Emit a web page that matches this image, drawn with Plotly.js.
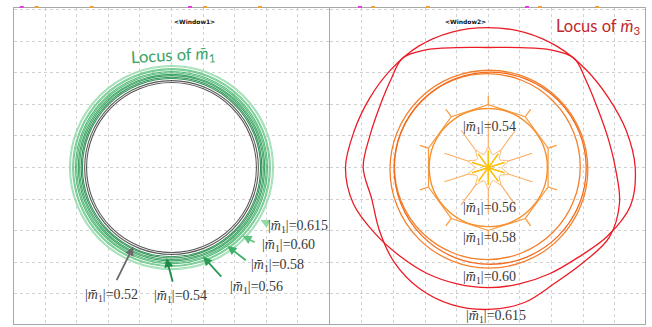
<!DOCTYPE html>
<html><head><meta charset="utf-8">
<script src="https://cdn.plot.ly/plotly-3.0.1.min.js"></script>
<style>html,body{margin:0;padding:0;background:#fff}#chart{width:652px;height:327px}</style>
</head><body><div id="chart"></div>
<script>
// ---------- data (grid units; 1 unit = one grid cell) ----------
// Left panel: locus of m1 for each |m1|
const m1Labels = ['0.52', '0.54', '0.56', '0.58', '0.60', '0.615'];
const m1RadiusA = [2.75, 2.86, 2.95, 3.04, 3.13, 3.23];
const m1RadiusB = [2.69, 2.82, 2.91, 3.00, 3.10, 3.20];
// arrow tip (on ring) and tail positions, label positions
const m1TipX = [-1.21, -0.16, 1.00, 1.77, 2.25, 2.82];
const m1TipY = [-2.50, -2.87, -2.82, -2.48, -2.16, -1.66];
const m1TailX = [-1.76, 0.05, 1.62, 2.40, 2.68, 3.06];
const m1TailY = [-3.61, -3.66, -3.50, -2.97, -2.39, -1.78];
const m1LabelX = [-1.89, 0.27, 2.69, 3.37, 3.69, 3.99];
const m1LabelY = [-4.06, -4.09, -3.81, -3.11, -2.45, -1.88];

// Right panel: locus of m3
const m3Labels = ['0.54', '0.56', '0.58', '0.60', '0.615'];
const m3LabelX = [0.05, 0.05, 0.05, 0.05, 0.24];
const m3LabelY = [1.27, -1.31, -2.26, -3.49, -4.72];
const symAngles = [18, 54, 90, 126, 162, 198, 234, 270, 306, 342];
const yellowSpokeR = 0.54;                 // |m1| = 0.52
const flowerR = [0.66, 0.44];              // |m1| = 0.54 inner flower (peak, valley)
const spokeR = [0.63, 1.46];               // |m1| = 0.54 spokes (start, end)
const polyR = [1.99, 2.28];                // |m1| = 0.56 polygon vertex, spike tip
const ringR = 1.87;                        // |m1| = 0.58 ring
const bigRingR = [2.94, 3.04, 3.13];       // |m1| = 0.60 rings
const bigRingCx = [-0.03, 0.06, 0.02];
const bigRingCy = [0.03, -0.02, -0.05];
// |m1| = 0.615 : two red loci (angle deg, radius)
const redPAng = [0,15,30,45,60,75,90,105,120,135,150,165,180,195,210,225,240,255,270,285,300,315,330,345];
const redPR   = [4.65,4.52,4.40,4.38,4.41,4.43,4.43,4.44,4.43,4.37,4.35,4.40,4.52,4.42,4.15,3.96,3.87,3.81,3.80,3.81,3.88,4.02,4.35,4.66];
const redQAng = [0,15,30,42,52,62,75,90,105,118,128,138,150,165,180,195,210,225,240,255,270,285,300,315,330,345];
const redQR   = [4.02,3.90,3.95,4.15,4.40,4.22,3.93,3.80,3.93,4.22,4.40,4.15,3.95,3.88,3.96,3.82,3.98,4.22,4.40,4.49,4.49,4.42,4.22,4.25,4.42,4.30];

// ---------- styles ----------
const greenCols = ['#4a4a4a', '#1e8a48', '#2f9d58', '#45b46c', '#68c787', '#98dcae'];
const arrowCols = ['#6b6b6b', '#1e8a48', '#2a9a55', '#3cb068', '#5cc47e', '#8fdaa5'];
const labelFont = {family: 'Liberation Serif', size: 14, color: '#3a3a3a'};

function pol(r, deg) { const t = deg * Math.PI / 180; return [r * Math.cos(t), r * Math.sin(t)]; }
function closed(angs, rs) {
  const xs = [], ys = [];
  angs.concat([angs[0]]).forEach((a, i) => { const p = pol(rs[i % rs.length], a); xs.push(p[0]); ys.push(p[1]); });
  return {x: xs, y: ys};
}

const traces = [];
const shapes = [];
const ann = [];

// left rings
m1RadiusA.forEach((r, i) => {
  [r, m1RadiusB[i]].forEach(rr => shapes.push({type: 'circle', xref: 'x', yref: 'y', x0: -rr, x1: rr, y0: -rr, y1: rr,
    line: {color: greenCols[i], width: 1.1}, opacity: 0.9}));
  ann.push({xref: 'x', yref: 'y', axref: 'x', ayref: 'y', x: m1TipX[i], y: m1TipY[i], ax: m1TailX[i], ay: m1TailY[i],
    text: '', showarrow: true, arrowhead: 2, arrowsize: 1, arrowwidth: 1.8, arrowcolor: arrowCols[i]});
  ann.push({xref: 'x', yref: 'y', x: m1LabelX[i], y: m1LabelY[i], showarrow: false,
    text: '|<i>m\u0304</i><sub>1</sub>|=' + m1Labels[i], font: labelFont});
});

// right: yellow spokes
(function () {
  const xs = [], ys = [];
  symAngles.forEach(a => { const p = pol(yellowSpokeR, a); const q = pol(yellowSpokeR, a + 180);
    xs.push(q[0], p[0], null); ys.push(q[1], p[1], null); });
  traces.push({x: xs, y: ys, xaxis: 'x2', yaxis: 'y2', mode: 'lines', line: {color: '#fdc010', width: 1.3}, hoverinfo: 'skip'});
})();
// flower ring
(function () {
  const angs = [], rs = [];
  symAngles.forEach(a => { angs.push(a, a + 18); rs.push(flowerR[0], flowerR[1]); });
  const c = closed(angs, rs);
  traces.push({x: c.x, y: c.y, xaxis: 'x2', yaxis: 'y2', mode: 'lines', line: {color: '#fdb56e', width: 1, shape: 'spline'}, hoverinfo: 'skip'});
})();
// light-orange spokes
(function () {
  const xs = [], ys = [];
  symAngles.forEach(a => { const p = pol(spokeR[0], a), q = pol(spokeR[1], a); xs.push(p[0], q[0], null); ys.push(p[1], q[1], null); });
  traces.push({x: xs, y: ys, xaxis: 'x2', yaxis: 'y2', mode: 'lines', line: {color: '#fbac62', width: 1.1}, hoverinfo: 'skip'});
})();
// polygon with spikes
(function () {
  const c = closed(symAngles, symAngles.map(() => polyR[0]));
  traces.push({x: c.x, y: c.y, xaxis: 'x2', yaxis: 'y2', mode: 'lines', line: {color: '#f99a40', width: 1.2}, hoverinfo: 'skip'});
  const xs = [], ys = [];
  symAngles.forEach(a => { const p = pol(polyR[0], a), q = pol(polyR[1], a); xs.push(p[0], q[0], null); ys.push(p[1], q[1], null); });
  traces.push({x: xs, y: ys, xaxis: 'x2', yaxis: 'y2', mode: 'lines', line: {color: '#f99a40', width: 1.2}, hoverinfo: 'skip'});
})();
// ring 0.58
shapes.push({type: 'circle', xref: 'x2', yref: 'y2', x0: -ringR, x1: ringR, y0: -ringR, y1: ringR, line: {color: '#f7902e', width: 1.4}});
// big rings 0.60
bigRingR.forEach((r, i) => shapes.push({type: 'circle', xref: 'x2', yref: 'y2',
  x0: bigRingCx[i] - r, x1: bigRingCx[i] + r, y0: bigRingCy[i] - r, y1: bigRingCy[i] + r,
  line: {color: i === 1 ? '#f26a1c' : '#f5802c', width: 1.3}}));
// red loci
[[redPAng, redPR], [redQAng, redQR]].forEach(d => {
  const c = closed(d[0], d[1]);
  traces.push({x: c.x, y: c.y, xaxis: 'x2', yaxis: 'y2', mode: 'lines',
    line: {color: '#ec1c26', width: 1.3, shape: 'spline', smoothing: 1}, hoverinfo: 'skip'});
});
m3Labels.forEach((v, i) => ann.push({xref: 'x2', yref: 'y2', x: m3LabelX[i], y: m3LabelY[i], showarrow: false,
  text: '|<i>m\u0304</i><sub>1</sub>|=' + v, font: labelFont}));

// titles
ann.push({xref: 'x', yref: 'y', x: -1.38, y: 3.55, xanchor: 'left', showarrow: false, textangle: -3,
  text: 'Locus of <i>m\u0304</i><sub>1</sub>', font: {family: 'Lato', size: 16.5, color: '#3aa466'}});
ann.push({xref: 'x2', yref: 'y2', x: 4.9, y: 4.45, xanchor: 'right', showarrow: false,
  text: 'Locus of <i>m\u0304</i><sub>3</sub>', font: {family: 'Lato', size: 16.5, color: '#c1272d'}});
ann.push({xref: 'paper', yref: 'paper', x: 171.6 / 652, y: (327 - 16) / 327, showarrow: false,
  text: '<b>&lt;Window1&gt;</b>', font: {family: 'DejaVu Sans', size: 6, color: '#111'}});
ann.push({xref: 'paper', yref: 'paper', x: 488.3 / 652, y: (327 - 16) / 327, showarrow: false,
  text: '<b>&lt;Window2&gt;</b>', font: {family: 'DejaVu Sans', size: 6, color: '#111'}});

// small coloured marks along the top edge
const markX = [21.7, 36.7, 91.7, 190, 205, 260, 360, 373, 428, 527, 540, 597];
const markC = ['#e040e0', '#f0a030', '#f0a030', '#e040e0', '#f0a030', '#f0a030', '#e040e0', '#f0a030', '#f0a030', '#e040e0', '#f0a030', '#f0a030'];
markX.forEach((mx, i) => shapes.push({type: 'rect', xref: 'paper', yref: 'paper',
  x0: (mx - 2) / 652, x1: (mx + 2) / 652, y0: (327 - 8) / 327, y1: (327 - 6) / 327, fillcolor: markC[i], line: {width: 0}}));

const axBase = {range: [-5, 5], dtick: 1, showticklabels: false, ticks: '', zeroline: false,
  showgrid: true, gridcolor: '#d2d2d2', griddash: 'dot', gridwidth: 1,
  showline: true, mirror: true, linecolor: '#a8a8a8', linewidth: 1, fixedrange: true};
const yDom = [3 / 327, 318.7 / 327];
const layout = {
  width: 652, height: 327, margin: {l: 0, r: 0, t: 0, b: 0},
  paper_bgcolor: '#ffffff', plot_bgcolor: '#ffffff', showlegend: false,
  xaxis: Object.assign({}, axBase, {domain: [13.6 / 652, 329.4 / 652], anchor: 'y'}),
  yaxis: Object.assign({}, axBase, {domain: yDom, range: [-4.95, 5.04], anchor: 'x'}),
  xaxis2: Object.assign({}, axBase, {domain: [330.3 / 652, 645 / 652], range: [-5, 4.96], anchor: 'y2'}),
  yaxis2: Object.assign({}, axBase, {domain: yDom, range: [-4.95, 5.04], anchor: 'x2'}),
  shapes: shapes, annotations: ann
};
Plotly.newPlot('chart', traces, layout, {displayModeBar: false, staticPlot: true});
</script>
</body></html>
